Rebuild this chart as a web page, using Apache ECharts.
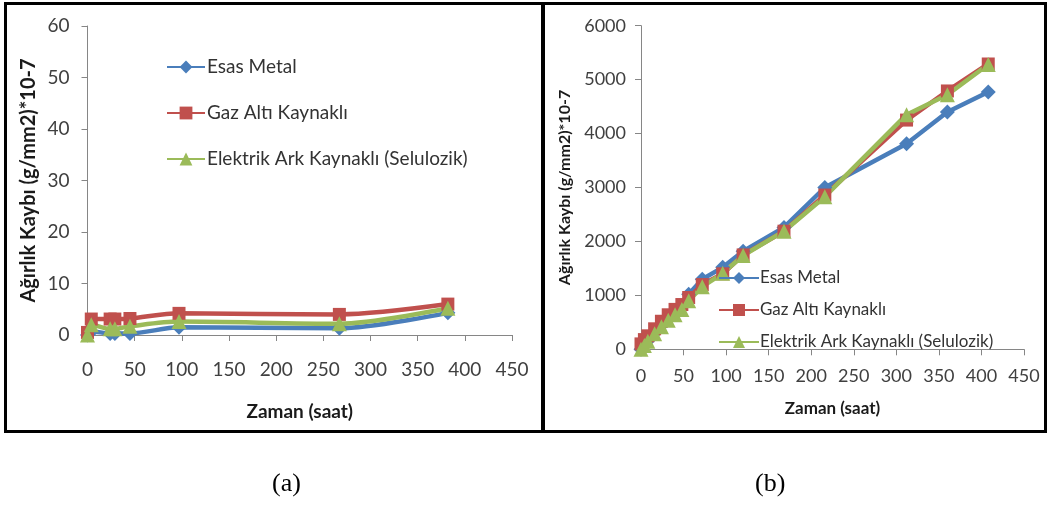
<!DOCTYPE html>
<html>
<head>
<meta charset="utf-8">
<script src="https://cdn.jsdelivr.net/npm/echarts@6/dist/echarts.min.js"></script>
<style>
html,body{margin:0;padding:0;background:#fff;}
#chart{width:1048px;height:506px;}
</style>
</head>
<body>
<div id="chart"></div>
<script>
// ---- Data ----
const seriesNames = ['Esas Metal', 'Gaz Altı Kaynaklı', 'Elektrik Ark Kaynaklı (Selulozik)'];
const xTitle = 'Zaman (saat)';
const yTitle = 'Ağırlık Kaybı (g/mm2)*10-7';
const captions = ['(a)', '(b)'];

// Panel (a)
const timeA = [0, 4, 24, 29, 45, 97, 267, 382];
const esasA = [0, 0.7, 0.3, 0.3, 0.3, 1.5, 1.3, 4.3];
const gazA  = [0.5, 3.1, 3.1, 3.1, 3.2, 4.2, 4.0, 6.0];
const elekA = [0, 2.0, 1.2, 1.2, 1.7, 2.6, 2.2, 5.2];

// Panel (b)
const timeB = [0, 4, 8, 16, 24, 32, 40, 48, 56, 72, 96, 120, 168, 216, 312, 360, 408];
const esasB = [0, 80, 160, 300, 440, 570, 690, 800, 1020, 1300, 1520, 1820, 2260, 3000, 3810, 4400, 4770];
const gazB  = [100, 180, 250, 380, 520, 640, 740, 830, 960, 1200, 1400, 1750, 2190, 2860, 4250, 4790, 5290];
const elekB = [0, 70, 150, 290, 420, 540, 640, 740, 900, 1160, 1410, 1740, 2190, 2830, 4350, 4720, 5280];

// ---- Styles ----
const colors = ['#4A7EBB', '#C0504D', '#9BBB59'];
const symbols = ['diamond', 'rect', 'triangle'];
const symSizes = [15, 13, 15];
const FONT = 'Lato';

function pairs(t, v) { return t.map((x, i) => [x, v[i]]); }

function mkSeries(idx, data, grid, smooth) {
  return {
    name: seriesNames[idx], type: 'line',
    xAxisIndex: grid, yAxisIndex: grid,
    data: data, smooth: smooth,
    symbol: symbols[idx], symbolSize: symSizes[idx],
    lineStyle: { color: colors[idx], width: 4.5 },
    itemStyle: { color: colors[idx] },
    emphasis: { disabled: true }
  };
}

function plain(v) { return String(v); }

function xAx(grid, fs, margin, gap, titleFs) {
  return {
    gridIndex: grid, type: 'value', min: 0, max: 450, interval: 50,
    name: xTitle, nameLocation: 'middle', nameGap: gap,
    nameTextStyle: { fontFamily: FONT, fontWeight: 'bold', fontSize: titleFs, color: '#1a1a1a' },
    axisLine: { show: true, lineStyle: { color: '#868686', width: 1 } },
    axisTick: { show: true, length: 6, lineStyle: { color: '#868686' } },
    axisLabel: { fontFamily: FONT, fontSize: fs, color: '#404040', margin: margin, formatter: plain },
    splitLine: { show: false }
  };
}
function yAx(grid, max, interval, fs, margin, gap, titleFs) {
  return {
    gridIndex: grid, type: 'value', min: 0, max: max, interval: interval,
    name: yTitle, nameLocation: 'middle', nameGap: gap, nameRotate: 90,
    nameTextStyle: { fontFamily: FONT, fontWeight: 'bold', fontSize: titleFs, color: '#1a1a1a' },
    axisLine: { show: true, lineStyle: { color: '#868686', width: 1 } },
    axisTick: { show: true, length: 6, lineStyle: { color: '#868686' } },
    axisLabel: { fontFamily: FONT, fontSize: fs, color: '#404040', margin: margin, formatter: plain },
    splitLine: { show: false }
  };
}

const chart = echarts.init(document.getElementById('chart'), null, { renderer: 'canvas' });
chart.setOption({
  animation: false,
  backgroundColor: '#ffffff',
  graphic: [
    { type: 'rect', shape: { x: 5.5, y: 3.5, width: 537, height: 428 }, style: { fill: 'none', stroke: '#000', lineWidth: 3 }, silent: true },
    { type: 'rect', shape: { x: 543.5, y: 3.5, width: 502, height: 428 }, style: { fill: 'none', stroke: '#000', lineWidth: 3 }, silent: true },
    { type: 'text', left: 272, top: 471, style: { text: captions[0], font: '26px "Liberation Serif"', fill: '#000' } },
    { type: 'text', left: 755, top: 471, style: { text: captions[1], font: '26px "Liberation Serif"', fill: '#000' } }
  ],
  grid: [
    { left: 87.5, right: 536, top: 26, bottom: 171, containLabel: false },
    { left: 641, right: 24, top: 25.7, bottom: 156.7, containLabel: false }
  ],
  xAxis: [ xAx(0, 19, 25, 67, 19), xAx(1, 18, 18, 51, 17) ],
  yAxis: [ yAx(0, 60, 10, 19, 18, 49, 20), yAx(1, 6000, 1000, 18, 15, 68, 16) ],
  legend: [
    {
      orient: 'vertical', left: 161, top: 51, itemWidth: 38, itemHeight: 16, itemGap: 24,
      data: seriesNames, selectedMode: false,
      textStyle: { fontFamily: FONT, fontSize: 19, color: '#333', lineHeight: 22, padding: [0,0,0,-3] }
    },
    {
      orient: 'vertical', left: 713, top: 263, itemWidth: 40, itemHeight: 15, itemGap: 12,
      data: seriesNames, selectedMode: false,
      textStyle: { fontFamily: FONT, fontSize: 17, color: '#333', lineHeight: 20, padding: [0,0,0,-4] }
    }
  ],
  series: [
    mkSeries(0, pairs(timeA, esasA), 0, 0.3),
    mkSeries(1, pairs(timeA, gazA), 0, 0.3),
    mkSeries(2, pairs(timeA, elekA), 0, 0.3),
    mkSeries(0, pairs(timeB, esasB), 1, false),
    mkSeries(1, pairs(timeB, gazB), 1, false),
    mkSeries(2, pairs(timeB, elekB), 1, false)
  ]
});
</script>
</body>
</html>
